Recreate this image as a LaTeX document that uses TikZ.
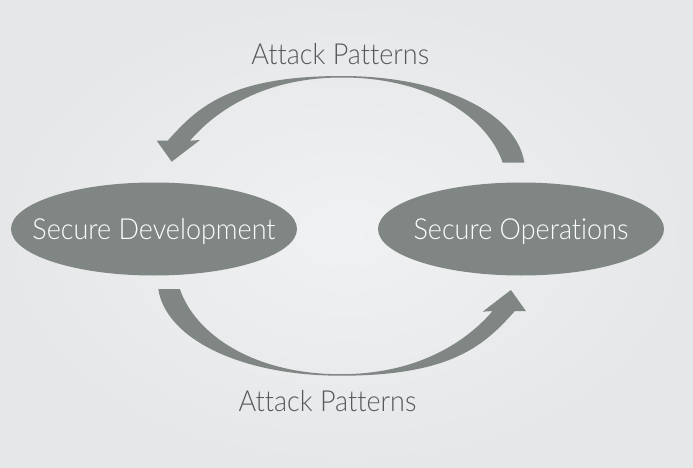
\documentclass[tikz,border=0pt]{standalone}
\usepackage{fontspec}
\setmainfont{Lato Light}[FakeStretch=0.93, Ligatures=NoCommon]
\usetikzlibrary{shapes.geometric}
\definecolor{shapegray}{RGB}{128,134,131}
\definecolor{labelgray}{RGB}{88,88,88}
\definecolor{bginner}{RGB}{240,241,242}
\definecolor{bgouter}{RGB}{229,231,233}
\begin{document}
\begin{tikzpicture}[x=1pt,y=-1pt,
  oval/.style={ellipse, fill=shapegray, draw=none, inner sep=0pt,
    minimum width=286pt, minimum height=93pt, text=white,
    font=\fontsize{29}{29}\selectfont, text height=21pt, text depth=0pt},
  looplabel/.style={text=labelgray, inner sep=0pt, anchor=base,
    font=\fontsize{29}{29}\selectfont},
  fatarrow/.style={fill=shapegray, draw=none}]
\useasboundingbox (0,0) rectangle (693,468);
\shade[inner color=bginner, outer color=bgouter] (0,0) rectangle (693,468);

\node[oval] (dev) at (154,229) {\makebox[0pt]{Secure Development}};
\node[oval] (ops) at (521,229) {\makebox[0pt]{Secure Operations}};

\node[looplabel] (toplabel) at (340.3,64.3) {Attack Patterns};
\node[looplabel] (botlabel) at (327.5,411.7) {Attack Patterns};

\coordinate (pivot) at (341.3,225.85);

% upper arrow: from Secure Operations back to Secure Development
\fill[fatarrow] (524.3,162.5)
  .. controls (516.7,113) and (442,76) .. (342,76)
  .. controls (230,76) and (197.6,107.1) .. (167.7,140.7)
  -- (156.7,140.7) -- (171.7,161.7) -- (200,140) -- (190,140.7)
  .. controls (211,116) and (258,77.5) .. (342,77.5)
  .. controls (430,77.5) and (487.4,118) .. (502.7,162.5) -- cycle;

% lower arrow: the same shape turned half a turn
\begin{scope}[rotate around={180:(pivot)}]
\fill[fatarrow] (524.3,162.5)
  .. controls (516.7,113) and (442,76) .. (342,76)
  .. controls (230,76) and (197.6,107.1) .. (167.7,140.7)
  -- (156.7,140.7) -- (171.7,161.7) -- (200,140) -- (190,140.7)
  .. controls (211,116) and (258,77.5) .. (342,77.5)
  .. controls (430,77.5) and (487.4,118) .. (502.7,162.5) -- cycle;
\end{scope}
\end{tikzpicture}
\end{document}
